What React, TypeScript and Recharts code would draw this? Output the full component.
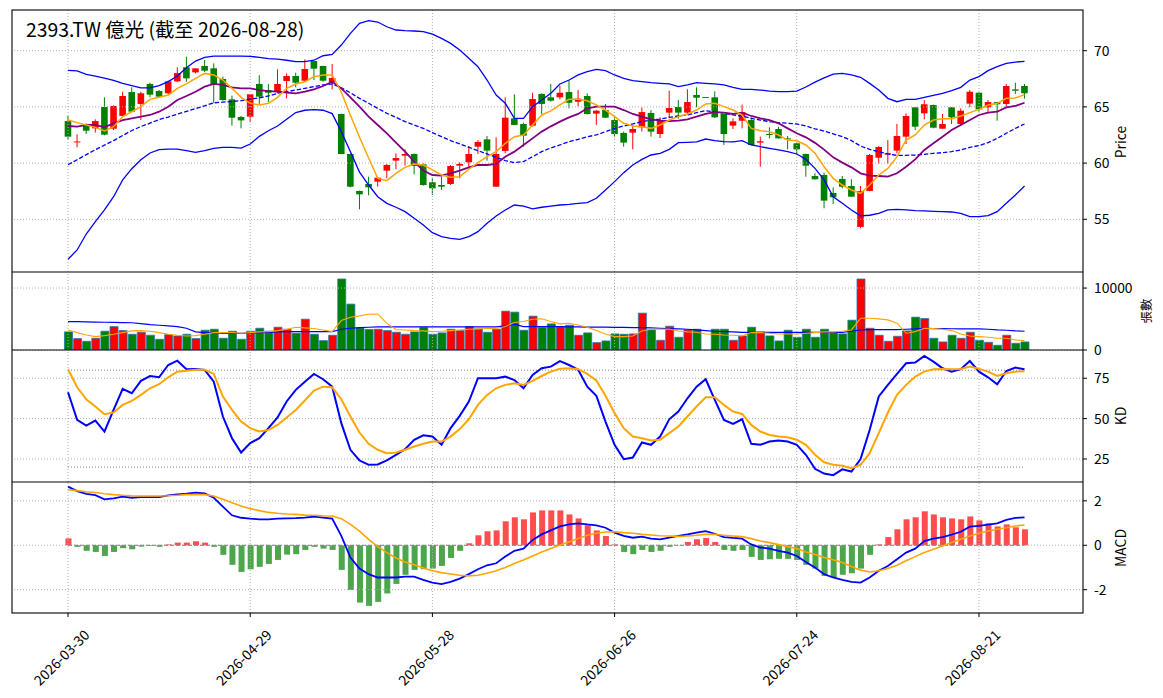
import React from 'react';
import { ComposedChart, Bar, Line, XAxis, YAxis, ReferenceLine, Cell } from 'recharts';

// ---------- data ----------
const tickIndex = [0, 20, 40, 60, 80, 100];
const tickLabels = ['2026-03-30', '2026-04-29', '2026-05-28', '2026-06-26', '2026-07-24', '2026-08-21'];

const priceTicks = [55, 60, 65, 70];
const volumeTicks = [0, 10000];
const kdTicks = [25, 50, 75];
const macdTicks = [-2, 0, 2];

const openP = [63.74,61.84,63.30,63.09,64.99,63.06,64.19,66.32,65.26,67.04,
66.41,66.21,67.27,68.52,68.07,68.64,68.43,67.48,65.67,64.10,
64.13,67.04,66.50,66.35,67.30,67.75,67.33,69.08,68.64,67.21,
64.37,60.81,57.52,58.14,58.35,59.33,60.22,60.66,60.81,59.89,
58.29,58.05,58.14,59.77,60.07,61.46,62.11,57.90,61.08,63.98,
63.48,63.33,66.15,65.85,65.85,66.32,65.46,65.97,64.40,64.72,
63.83,62.68,62.71,63.18,64.46,62.59,64.49,64.99,64.49,66.06,
65.87,65.85,64.37,63.33,63.77,63.83,61.82,62.60,63.03,62.20,
61.76,60.81,58.85,58.94,57.34,58.59,57.96,54.32,57.52,60.48,
60.75,61.11,62.35,64.96,64.43,65.17,63.06,64.96,63.48,65.29,
66.26,64.96,65.43,65.26,66.56,66.86];

const highP = [64.19,62.56,63.54,63.89,65.85,65.14,66.35,66.74,66.35,67.15,
66.50,67.33,68.52,69.47,68.43,69.17,68.87,67.69,66.00,64.19,
66.15,67.81,67.04,68.34,67.98,68.04,69.23,69.10,68.66,68.81,
64.40,60.84,57.55,58.79,58.79,59.92,60.87,61.22,60.84,59.98,
58.70,58.79,59.83,60.07,61.52,62.05,62.41,62.29,65.85,66.12,
63.60,66.26,66.21,67.04,66.86,67.39,66.50,66.21,64.72,65.26,
64.19,62.80,63.39,64.96,64.72,64.07,66.44,65.61,66.56,66.74,
65.88,66.38,64.39,63.98,65.20,64.07,62.35,63.18,63.24,62.41,
61.82,60.84,59.09,59.15,57.84,58.85,58.56,57.96,60.81,61.52,
62.05,63.48,64.43,64.98,65.61,65.20,64.37,64.98,64.87,66.50,
66.28,65.61,65.45,67.04,67.15,67.04];

const lowP = [62.11,61.40,62.59,62.71,62.47,62.94,64.13,64.55,63.83,65.85,
65.82,66.15,67.21,67.24,67.98,68.10,65.32,65.55,63.33,63.09,
63.63,65.26,65.43,66.21,65.76,66.74,67.24,67.39,67.24,66.56,
60.78,57.84,55.89,57.13,57.90,58.64,59.45,59.77,59.00,57.99,
57.16,57.61,58.05,58.64,59.59,60.81,60.22,57.88,60.87,63.37,
61.46,63.24,64.37,65.46,65.67,64.87,65.02,64.31,63.39,64.02,
62.29,61.46,61.22,62.80,62.35,62.23,63.98,63.95,64.37,64.96,
65.84,64.01,61.61,63.03,63.09,61.59,59.68,62.20,62.18,61.22,
60.81,58.79,58.54,55.98,56.36,57.76,56.99,54.20,57.50,59.92,
59.92,60.87,61.70,62.94,63.89,63.09,63.04,63.48,63.30,64.96,
64.57,64.57,63.77,65.02,66.15,65.73];

const closeP = [62.35,61.92,62.88,63.74,62.53,65.08,65.97,64.57,66.21,66.09,
65.91,67.27,68.01,67.54,68.43,68.22,67.04,65.61,64.04,63.80,
66.12,65.91,66.26,67.04,67.75,67.15,68.37,68.40,67.33,67.57,
60.81,57.90,57.22,57.84,58.70,59.83,60.45,60.81,59.74,58.05,
57.76,57.90,59.74,59.92,60.81,61.88,61.11,60.81,64.04,63.39,
62.44,65.70,65.26,65.55,66.26,65.37,65.73,64.37,64.66,64.04,
62.59,61.82,63.03,64.54,62.80,63.83,64.90,64.49,65.43,65.82,
65.85,64.07,62.59,63.71,64.54,61.61,61.94,62.50,62.20,62.11,
61.22,59.77,58.56,56.66,56.96,57.90,57.01,57.52,60.72,61.43,
60.87,62.41,64.19,63.24,65.23,63.15,63.48,64.07,64.66,66.35,
64.78,65.43,65.23,66.86,66.44,66.21];

const ma5 = [63.83,63.60,63.39,63.18,62.85,63.24,64.13,64.57,65.02,65.67,
65.85,66.06,66.65,67.04,67.54,67.98,67.84,67.39,66.65,65.85,
65.32,65.17,65.32,65.85,66.65,67.04,67.24,67.69,67.84,67.84,
66.30,64.25,62.30,60.45,58.64,58.44,59.09,59.62,59.92,59.83,
59.39,58.94,58.73,58.79,59.45,60.04,60.57,61.02,61.76,62.35,
62.50,63.39,64.28,64.65,65.17,65.67,65.67,65.55,65.17,64.72,
64.13,63.54,63.30,63.24,63.09,63.39,63.83,64.13,64.37,64.72,
65.26,65.32,65.02,64.72,64.28,63.09,62.88,62.80,62.50,62.05,
61.99,61.61,60.87,59.68,58.64,58.05,57.61,57.31,58.05,58.94,
59.53,60.57,62.05,62.50,63.39,63.83,63.95,63.95,64.19,64.49,
64.78,65.17,65.32,65.76,65.79,66.09];

const ma10 = [63.30,63.24,63.39,63.39,63.18,63.54,63.83,63.98,64.13,64.28,
64.57,65.02,65.61,65.97,66.35,66.80,67.04,66.95,66.74,66.65,
66.65,66.50,66.41,66.35,66.26,66.21,66.35,66.56,66.86,67.24,
66.65,65.85,65.02,64.13,63.39,62.65,61.82,61.02,60.13,59.33,
58.94,58.88,59.09,59.33,59.62,59.83,59.83,59.92,60.57,61.02,
61.61,62.20,62.80,63.27,63.69,64.07,64.37,64.87,65.02,65.02,
65.02,64.72,64.37,64.13,63.89,63.77,63.74,63.77,63.89,64.13,
64.37,64.54,64.49,64.37,64.49,64.19,63.98,63.83,63.54,63.09,
62.65,62.29,61.80,61.20,60.51,60.04,59.62,59.09,58.88,58.85,
58.79,59.09,59.68,60.33,61.17,61.76,62.35,62.94,63.39,63.83,
64.28,64.49,64.57,64.96,65.08,65.37];

const bbUpper = [68.25,68.20,67.90,67.74,67.55,67.35,67.10,66.90,66.70,66.70,
66.90,67.25,67.74,68.48,69.08,69.40,69.52,69.52,69.52,69.52,
69.50,69.40,69.30,69.25,69.15,69.02,69.02,69.15,69.55,69.67,
70.50,71.54,72.43,72.67,72.55,72.13,71.84,71.78,71.75,71.69,
71.48,71.10,70.65,70.06,69.32,68.58,67.39,66.06,65.32,63.98,
63.98,65.02,65.61,66.21,67.04,67.39,67.84,68.13,68.34,68.22,
67.84,67.54,67.33,67.24,67.15,67.09,67.04,66.80,66.95,67.15,
67.09,67.04,66.95,66.74,66.56,66.56,66.50,66.41,66.35,66.35,
66.41,66.77,67.20,67.58,67.92,67.98,67.84,67.63,67.09,66.50,
65.76,65.46,65.67,65.67,65.85,66.03,66.21,66.44,66.74,67.39,
67.69,68.22,68.58,68.87,68.99,69.05];

const bbMid = [59.85,60.30,60.75,61.19,61.60,62.00,62.45,62.90,63.25,63.55,
63.87,64.10,64.35,64.60,64.85,65.10,65.36,65.42,65.48,65.55,
65.70,65.80,65.97,66.21,66.35,66.50,66.65,66.80,66.95,67.04,
66.70,66.25,65.76,65.32,64.87,64.43,64.07,63.69,63.39,63.09,
62.71,62.35,62.00,61.70,61.40,61.11,60.81,60.51,60.22,60.04,
60.13,60.57,61.02,61.35,61.61,61.91,62.11,62.35,62.50,62.80,
63.09,63.30,63.48,63.69,63.83,63.92,64.07,64.19,64.28,64.49,
64.66,64.57,64.43,64.28,64.19,63.98,63.83,63.69,63.60,63.54,
63.48,63.30,63.05,62.85,62.60,62.35,62.00,61.52,61.22,61.02,
60.81,60.69,60.69,60.72,60.78,60.87,60.93,61.02,61.17,61.40,
61.55,61.82,62.20,62.65,63.09,63.48];

const bbLower = [51.44,52.27,53.69,54.79,55.83,57.01,58.51,59.50,60.30,60.90,
61.19,61.25,61.25,61.10,60.95,61.10,61.30,61.40,61.40,61.34,
61.70,62.38,62.88,63.30,63.90,64.50,64.70,64.75,64.70,64.40,
62.80,61.00,59.20,58.05,57.01,56.42,56.07,55.68,55.09,54.49,
53.81,53.46,53.31,53.22,53.46,53.90,54.64,55.30,55.83,56.27,
56.18,55.92,56.07,56.18,56.27,56.33,56.42,56.48,56.87,57.61,
58.35,59.15,59.83,60.33,60.72,60.87,61.22,61.82,61.85,61.88,
62.14,62.00,61.91,61.88,62.00,61.61,61.46,61.31,61.17,61.02,
60.81,60.33,59.53,58.50,57.01,56.42,55.83,55.30,55.36,55.53,
55.83,55.89,55.83,55.77,55.74,55.71,55.68,55.65,55.53,55.24,
55.24,55.32,55.68,56.42,57.16,57.96];

const volume = [2920,1840,1405,1890,3030,3780,3135,2540,2865,2380,
1730,2485,2270,2540,1840,3190,3350,1890,3030,1730,
3030,3510,3030,3675,3350,2700,4970,2540,1510,2380,
11460,7405,3570,3300,3350,3135,2865,2540,2920,3620,
2540,2760,3350,3135,3780,3405,2865,3350,6270,6110,
3190,5460,3620,4215,3780,4000,2380,2760,1190,1460,
2595,2540,2595,5950,3245,1570,3840,2055,3245,3350,
0,3350,3350,1570,2270,3675,2920,2270,1460,3190,
2055,3350,2055,3350,2810,2595,4810,11460,3510,2380,
1405,2215,3080,5300,5080,1890,1300,2380,1890,2865,
1570,1245,757,2380,1080,1300];

const volMa5 = [3240,2810,2430,2160,2320,2540,2810,3080,3135,3030,
2810,2540,2380,2270,2320,2540,2810,2810,2810,2700,
2810,2920,2970,3135,3350,3675,3570,3460,3240,2970,
4755,5300,5510,5780,5817,4300,3300,3240,3135,3080,
2970,3030,3135,3240,3350,3400,3460,3460,3780,4430,
4595,4970,5030,4595,4215,4325,4050,3675,3135,2595,
2160,2160,2270,3080,3350,3350,3400,3080,2920,2865,
2595,2540,2430,2380,2270,2810,2810,2700,2595,2595,
2595,2700,2810,2920,2920,3030,3240,5135,5135,5030,
4865,4325,2700,2970,3510,3460,3350,3135,2595,2270,
2160,2055,1890,1890,1620,1510];

const volMa20 = [4595,4570,4540,4510,4480,4460,4430,4400,4270,4110,
4000,3890,3780,3510,2920,2810,2760,2700,2700,2700,
2750,2810,2860,2920,2970,2970,2970,2970,2970,2970,
3350,3510,3620,3675,3730,3730,3730,3730,3730,3730,
3730,3730,3730,3730,3730,3730,3730,3730,3890,4160,
3780,3780,3780,3780,3780,3730,3730,3700,3700,3700,
3650,3650,3620,3620,3570,3510,3460,3400,3350,3240,
3135,3030,2970,2920,2860,2860,2860,2860,2860,2860,
2860,2860,2860,2860,2860,2860,3030,3240,3300,3300,
3300,3300,3350,3400,3510,3460,3460,3430,3400,3400,
3400,3350,3240,3190,3080,3030];

const kLine = [66.3,49.2,45.7,48.8,42.0,55.4,68.4,65.7,73.4,76.4,
75.6,83.2,85.9,80.6,80.8,80.2,72.9,51.3,37.9,29.0,
34.8,37.9,44.1,50.7,60.6,67.8,72.9,77.7,74.4,69.8,
47.2,30.7,24.1,21.4,21.6,24.1,27.6,31.1,36.9,39.7,
38.9,33.8,44.1,51.7,60.6,75.0,75.0,75.0,76.0,73.9,
68.8,77.1,81.2,82.2,85.6,83.2,80.2,69.8,64.1,48.2,
33.8,24.9,25.9,35.2,33.8,38.9,49.6,54.4,62.6,69.8,
74.4,61.6,49.2,46.7,49.6,34.4,33.8,35.8,36.4,35.8,
33.8,27.6,18.9,16.0,15.0,18.6,17.2,24.9,43.0,63.7,
70.9,77.7,84.3,84.7,88.8,85.3,81.2,79.1,80.6,85.7,
79.1,75.6,71.3,79.5,81.6,80.6];

const dLine = [80.6,69.4,62.0,57.5,52.7,53.8,58.5,61.0,64.7,68.8,
71.3,75.6,79.1,79.7,80.2,80.2,77.7,63.7,55.4,48.2,
44.1,42.0,43.0,46.1,50.7,55.4,61.2,67.4,69.8,69.4,
62.0,51.3,41.4,34.4,30.7,28.6,29.0,30.7,32.7,34.4,
35.8,35.8,38.9,43.5,49.6,58.5,64.7,68.8,70.9,71.9,
70.9,73.4,76.4,79.1,80.9,81.2,80.6,77.7,73.6,64.1,
53.4,44.1,38.9,37.9,36.4,36.9,41.0,45.1,51.3,57.5,
63.2,63.2,58.5,54.4,52.9,46.1,42.0,39.9,38.9,38.5,
36.9,33.8,27.6,23.0,21.4,20.8,19.3,21.4,28.6,41.0,
53.8,64.7,70.9,76.0,79.1,80.6,80.8,80.6,80.8,82.2,
80.8,79.1,76.4,78.1,79.1,79.3];

const difLine = [2.64,2.44,2.32,2.26,2.07,2.11,2.19,2.14,2.17,2.17,
2.17,2.25,2.29,2.32,2.37,2.34,2.14,1.74,1.35,1.24,
1.20,1.17,1.17,1.20,1.21,1.22,1.25,1.29,1.25,1.20,
0.42,-0.55,-1.05,-1.30,-1.45,-1.45,-1.45,-1.41,-1.41,-1.56,
-1.68,-1.75,-1.65,-1.50,-1.30,-1.08,-0.90,-0.81,-0.51,-0.25,
-0.15,0.24,0.49,0.67,0.85,0.94,0.99,0.94,0.90,0.79,
0.57,0.42,0.34,0.39,0.30,0.27,0.34,0.42,0.49,0.57,
0.64,0.52,0.37,0.33,0.30,0.04,-0.10,-0.15,-0.25,-0.33,
-0.48,-0.75,-1.00,-1.30,-1.45,-1.56,-1.65,-1.68,-1.45,-1.15,
-0.93,-0.63,-0.33,-0.15,0.19,0.30,0.37,0.48,0.61,0.84,
0.87,0.93,0.99,1.14,1.23,1.26];

const signalLine = [2.50,2.46,2.41,2.38,2.32,2.28,2.25,2.23,2.22,2.22,
2.22,2.23,2.25,2.28,2.28,2.28,2.22,2.07,1.92,1.77,
1.65,1.56,1.48,1.44,1.41,1.39,1.36,1.35,1.33,1.32,
1.20,0.94,0.64,0.27,-0.06,-0.33,-0.57,-0.75,-0.88,-1.02,
-1.15,-1.23,-1.29,-1.35,-1.38,-1.35,-1.26,-1.15,-1.00,-0.82,
-0.66,-0.48,-0.30,-0.15,0.01,0.15,0.30,0.45,0.54,0.60,
0.61,0.57,0.54,0.49,0.46,0.43,0.42,0.40,0.42,0.45,
0.49,0.49,0.45,0.42,0.39,0.30,0.19,0.12,0.03,-0.06,
-0.15,-0.30,-0.42,-0.55,-0.65,-0.78,-0.96,-1.12,-1.20,-1.15,
-1.05,-0.90,-0.70,-0.51,-0.33,-0.18,-0.03,0.12,0.27,0.42,
0.54,0.64,0.72,0.79,0.87,0.91];

const histBars = [0.31,-0.07,-0.25,-0.30,-0.48,-0.30,-0.13,-0.18,-0.06,-0.03,
-0.07,0.04,0.12,0.12,0.18,0.12,-0.07,-0.43,-0.88,-1.20,
-1.08,-0.97,-0.84,-0.66,-0.42,-0.40,-0.21,-0.07,-0.15,-0.21,
-1.11,-2.01,-2.58,-2.73,-2.55,-2.17,-1.74,-1.33,-1.11,-1.08,
-1.05,-0.93,-0.57,-0.25,0.09,0.45,0.63,0.67,1.08,1.26,
1.17,1.48,1.57,1.57,1.57,1.39,1.21,0.90,0.67,0.42,
0.04,-0.30,-0.40,-0.21,-0.30,-0.25,-0.07,-0.01,0.15,0.27,
0.33,0.15,-0.21,-0.25,-0.21,-0.52,-0.66,-0.63,-0.61,-0.61,
-0.66,-0.88,-1.05,-1.38,-1.45,-1.33,-1.26,-1.05,-0.43,0.04,
0.37,0.72,1.17,1.26,1.53,1.39,1.26,1.21,1.17,1.30,
1.12,0.99,0.85,0.94,0.81,0.72];

// ---------- table built from the arrays ----------
const rows = closeP.map((c, i) => ({
  i,
  o: openP[i],
  h: highP[i],
  l: lowP[i],
  c,
  hl: [lowP[i], highP[i]],
  ma5: ma5[i],
  ma10: ma10[i],
  bbU: bbUpper[i],
  bbM: bbMid[i],
  bbL: bbLower[i],
  vol: volume[i],
  vma5: volMa5[i],
  vma20: volMa20[i],
  k: kLine[i],
  d: dLine[i],
  dif: difLine[i],
  sig: signalLine[i],
  hist: histBars[i],
}));

// ---------- styling ----------
const FONT = '"Noto Sans CJK TC", "Noto Sans", sans-serif';
const RED = '#ff0000';
const GREEN = '#008000';
const HIST_RED = '#ff4c4c';
const HIST_GREEN = '#4ca64c';
const GRID = '#b0b0b0';
const X_DOMAIN: [number, number] = [-6.15, 111.42];
const W = 1163;
const LEFT = 12;
const RIGHT = 1083;
const Y_AXIS_W = 60;
const MARGIN = { top: 0, right: W - RIGHT - Y_AXIS_W, bottom: 0, left: LEFT };
const LAST = rows.length - 1;

const P1 = { top: 10, bottom: 272 };
const P2 = { top: 272, bottom: 350 };
const P3 = { top: 350, bottom: 482 };
const P4 = { top: 482, bottom: 613 };

const tickStyle = { fill: '#000', fontSize: 13.9, fontFamily: FONT };

const CandleShape = (props: any) => {
  const { x, y, width, height, payload } = props;
  if (x == null || y == null || !payload) return null;
  const { o, h, l, c } = payload;
  const color = c >= o ? RED : GREEN;
  const top0 = Math.min(y, y + height);
  const hh = Math.abs(height);
  const k = h > l ? hh / (h - l) : 0;
  const py = (v: number) => top0 + (h - v) * k;
  const cx = x + width / 2;
  const bt = py(Math.max(o, c));
  const bb = py(Math.min(o, c));
  const bw = 6.6;
  return (
    <g>
      <line x1={cx} x2={cx} y1={top0} y2={top0 + hh} stroke={color} strokeWidth={1} />
      <rect x={cx - bw / 2} y={bt} width={bw} height={Math.max(bb - bt, 0.9)} fill={color} />
    </g>
  );
};

const DateTick = (props: any) => {
  const { x, payload } = props;
  const idx = tickIndex.indexOf(payload.value);
  const label = idx >= 0 ? tickLabels[idx] : '';
  const cx = x - 7;
  const cy = 657 - P4.top;
  return (
    <text
      x={cx}
      y={cy}
      transform={`rotate(-45 ${cx} ${cy})`}
      textAnchor="middle"
      dominantBaseline="central"
      fontSize={13.9}
      fontFamily={FONT}
      fill="#000"
    >
      {label}
    </text>
  );
};

const vGrid = (prefix: string) =>
  tickIndex.map((x) => (
    <ReferenceLine key={prefix + 'vx' + x} x={x} stroke={GRID} strokeWidth={1} strokeDasharray="1 2" />
  ));
const hGrid = (prefix: string, ticks: number[]) =>
  ticks.map((t) => (
    <ReferenceLine key={prefix + 'hy' + t} y={t} stroke={GRID} strokeWidth={1} strokeDasharray="1 2" />
  ));

const yAxisProps = {
  orientation: 'right' as const,
  type: 'number' as const,
  allowDataOverflow: true,
  width: Y_AXIS_W,
  axisLine: false,
  tickSize: 4,
  tickMargin: 7,
  tickLine: { stroke: '#000' },
  tick: tickStyle,
  interval: 0 as const,
};

const VOL_EXTRA = 12;

export default function App() {
  return (
    <div style={{ position: 'absolute', left: 0, top: 0, width: W, height: 698, background: '#fff' }}>
      {/* Price panel */}
      <div style={{ position: 'absolute', left: 0, top: P1.top }}>
        <ComposedChart width={W} height={P1.bottom - P1.top} data={rows} margin={MARGIN}>
          <XAxis type="number" dataKey="i" domain={X_DOMAIN} ticks={tickIndex} allowDataOverflow hide />
          <YAxis {...yAxisProps} domain={[50.31, 73.62]} ticks={priceTicks} />
          {vGrid('p')}
          {hGrid('p', priceTicks)}
          <Bar dataKey="hl" barSize={7} shape={CandleShape} isAnimationActive={false} />
          <Line type="linear" dataKey="bbU" stroke="#0000ff" strokeWidth={1.3} dot={false} activeDot={false} isAnimationActive={false} />
          <Line type="linear" dataKey="bbL" stroke="#0000ff" strokeWidth={1.3} dot={false} activeDot={false} isAnimationActive={false} />
          <Line type="linear" dataKey="bbM" stroke="#0000ff" strokeWidth={1.3} strokeDasharray="4.4 2" dot={false} activeDot={false} isAnimationActive={false} />
          <Line type="linear" dataKey="ma10" stroke="#800080" strokeWidth={1.8} dot={false} activeDot={false} isAnimationActive={false} />
          <Line type="linear" dataKey="ma5" stroke="#ffa500" strokeWidth={1.5} dot={false} activeDot={false} isAnimationActive={false} />
        </ComposedChart>
      </div>

      {/* Volume panel (extra bottom margin so the "0" tick label is not clipped) */}
      <div style={{ position: 'absolute', left: 0, top: P2.top }}>
        <ComposedChart
          width={W}
          height={P2.bottom - P2.top + VOL_EXTRA}
          data={rows}
          margin={{ ...MARGIN, bottom: VOL_EXTRA }}
        >
          <XAxis type="number" dataKey="i" domain={X_DOMAIN} ticks={tickIndex} allowDataOverflow hide />
          <YAxis {...yAxisProps} domain={[0, 12593]} ticks={volumeTicks} />
          {vGrid('v')}
          {hGrid('v', volumeTicks)}
          <Bar dataKey="vol" barSize={8} isAnimationActive={false}>
            {rows.map((r) => (
              <Cell
                key={'vc' + r.i}
                fill={r.c >= r.o ? RED : GREEN}
                stroke={r.vol > 0 ? '#1f77b4' : 'none'}
                strokeWidth={0.8}
              />
            ))}
          </Bar>
          <Line type="linear" dataKey="vma20" stroke="#0000ff" strokeWidth={1.2} dot={false} activeDot={false} isAnimationActive={false} />
          <Line type="linear" dataKey="vma5" stroke="#ffa500" strokeWidth={1.1} dot={false} activeDot={false} isAnimationActive={false} />
        </ComposedChart>
      </div>

      {/* KD panel */}
      <div style={{ position: 'absolute', left: 0, top: P3.top }}>
        <ComposedChart width={W} height={P3.bottom - P3.top} data={rows} margin={MARGIN}>
          <XAxis type="number" dataKey="i" domain={X_DOMAIN} ticks={tickIndex} allowDataOverflow hide />
          <YAxis {...yAxisProps} domain={[10.75, 92.5]} ticks={kdTicks} />
          {vGrid('k')}
          {hGrid('k', kdTicks)}
          <ReferenceLine segment={[{ x: 0, y: 80 }, { x: LAST, y: 80 }]} stroke="#808080" strokeWidth={1} strokeDasharray="1 2" />
          <ReferenceLine segment={[{ x: 0, y: 20 }, { x: LAST, y: 20 }]} stroke="#808080" strokeWidth={1} strokeDasharray="1 2" />
          <Line type="linear" dataKey="k" stroke="#0000ff" strokeWidth={2} dot={false} activeDot={false} isAnimationActive={false} />
          <Line type="linear" dataKey="d" stroke="#ffa500" strokeWidth={2} dot={false} activeDot={false} isAnimationActive={false} />
        </ComposedChart>
      </div>

      {/* MACD panel */}
      <div style={{ position: 'absolute', left: 0, top: P4.top }}>
        <ComposedChart width={W} height={P4.bottom - P4.top + 85} data={rows} margin={MARGIN}>
          <XAxis
            type="number"
            dataKey="i"
            domain={X_DOMAIN}
            ticks={tickIndex}
            allowDataOverflow
            height={85}
            axisLine={false}
            tickLine={{ stroke: '#000' }}
            tickSize={4}
            interval={0}
            tick={<DateTick />}
          />
          <YAxis {...yAxisProps} domain={[-3.05, 2.85]} ticks={macdTicks} />
          {vGrid('m')}
          {hGrid('m', macdTicks)}
          <Bar dataKey="hist" barSize={6} isAnimationActive={false}>
            {rows.map((r) => (
              <Cell key={'hc' + r.i} fill={r.hist >= 0 ? HIST_RED : HIST_GREEN} />
            ))}
          </Bar>
          <ReferenceLine segment={[{ x: 0, y: 0 }, { x: LAST, y: 0 }]} stroke="#808080" strokeWidth={1} strokeDasharray="4 2" />
          <Line type="linear" dataKey="dif" stroke="#0000ff" strokeWidth={1.8} dot={false} activeDot={false} isAnimationActive={false} />
          <Line type="linear" dataKey="sig" stroke="#ffa500" strokeWidth={1.6} dot={false} activeDot={false} isAnimationActive={false} />
        </ComposedChart>
      </div>

      {/* frames, title and axis labels */}
      <svg
        width={W}
        height={698}
        style={{ position: 'absolute', left: 0, top: 0, pointerEvents: 'none' }}
      >
        <rect x={LEFT} y={P1.top} width={RIGHT - LEFT} height={P4.bottom - P1.top} fill="none" stroke="#000" strokeWidth={1.1} />
        <line x1={LEFT} x2={RIGHT} y1={P2.top} y2={P2.top} stroke="#000" strokeWidth={1.1} />
        <line x1={LEFT} x2={RIGHT} y1={P3.top} y2={P3.top} stroke="#000" strokeWidth={1.1} />
        <line x1={LEFT} x2={RIGHT} y1={P4.top} y2={P4.top} stroke="#000" strokeWidth={1.1} />
        <text x={26} y={37} fontSize={19.4} fontFamily={FONT} fill="#000">
          2393.TW 億光 (截至 2026-08-28)
        </text>
        <text x={1120} y={142} transform="rotate(-90 1120 142)" textAnchor="middle" dominantBaseline="central" fontSize={13.9} fontFamily={FONT} fill="#000">
          Price
        </text>
        <text x={1145} y={311} transform="rotate(-90 1145 311)" textAnchor="middle" dominantBaseline="central" fontSize={12.5} fontFamily={FONT} fill="#000">
          張數
        </text>
        <text x={1120} y={416} transform="rotate(-90 1120 416)" textAnchor="middle" dominantBaseline="central" fontSize={13.9} fontFamily={FONT} fill="#000">
          KD
        </text>
        <text x={1120} y={548} transform="rotate(-90 1120 548)" textAnchor="middle" dominantBaseline="central" fontSize={13.9} fontFamily={FONT} fill="#000">
          MACD
        </text>
      </svg>
    </div>
  );
}
